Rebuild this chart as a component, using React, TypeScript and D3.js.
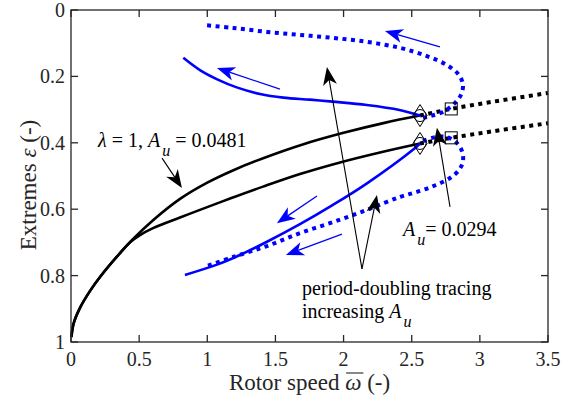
import React, { useLayoutEffect, useRef, useState } from 'react';
import * as d3 from 'd3';

const W = 571;
const H = 406;

const xTicks = [0, 0.5, 1, 1.5, 2, 2.5, 3, 3.5];
const yTicks = [0, 0.2, 0.4, 0.6, 0.8, 1];

// black solid branches (lambda = 1)
const blackUpperX = [0.003, 0.02, 0.066, 0.14, 0.213, 0.36, 0.45, 0.6, 0.8, 1.0, 1.2, 1.4, 1.7, 2.0, 2.3, 2.561];
const blackUpperY = [0.985, 0.943, 0.897, 0.846, 0.804, 0.732, 0.692, 0.634, 0.569, 0.52, 0.481, 0.448, 0.405, 0.37, 0.34, 0.318];
const blackLowerX = [0.003, 0.02, 0.066, 0.14, 0.213, 0.36, 0.433, 0.506, 0.602, 0.8, 0.946, 1.167, 1.409, 1.68, 1.974, 2.267, 2.561];
const blackLowerY = [0.985, 0.943, 0.897, 0.846, 0.804, 0.732, 0.7, 0.678, 0.657, 0.625, 0.602, 0.568, 0.532, 0.494, 0.459, 0.429, 0.402];

// black dotted (unstable) branches
const blackDotUpperX = [2.561, 2.79, 3.1, 3.5];
const blackDotUpperY = [0.318, 0.298, 0.276, 0.25];
const blackDotLowerX = [2.561, 2.79, 3.1, 3.5];
const blackDotLowerY = [0.402, 0.385, 0.365, 0.341];

// blue solid period-doubling branches
const blueUpperX = [0.824, 0.946, 1.069, 1.216, 1.387, 1.558, 1.754, 1.92, 2.17, 2.41, 2.561];
const blueUpperY = [0.144, 0.181, 0.208, 0.233, 0.253, 0.264, 0.27, 0.276, 0.286, 0.301, 0.318];
const blueLowerX = [2.561, 2.509, 2.172, 1.922, 1.68, 1.438, 1.24, 1.071, 0.836];
const blueLowerY = [0.402, 0.421, 0.522, 0.587, 0.645, 0.698, 0.738, 0.767, 0.798];

// blue dotted period-doubling branches
const blueDotUpperX = [2.583, 2.641, 2.729, 2.81, 2.861, 2.876, 2.847, 2.759, 2.612, 2.414, 2.172, 1.922, 1.68, 1.438, 1.189, 0.968];
const blueDotUpperY = [0.325, 0.319, 0.307, 0.283, 0.256, 0.226, 0.196, 0.166, 0.139, 0.114, 0.096, 0.084, 0.075, 0.066, 0.054, 0.045];
const blueDotLowerX = [2.583, 2.671, 2.759, 2.825, 2.869, 2.876, 2.847, 2.781, 2.678, 2.561, 2.414, 2.172, 1.922, 1.68, 1.438, 1.189, 0.998];
const blueDotLowerY = [0.395, 0.383, 0.383, 0.398, 0.425, 0.455, 0.482, 0.506, 0.527, 0.545, 0.563, 0.602, 0.639, 0.672, 0.711, 0.744, 0.771];

// markers
const diamondX = [2.561, 2.561];
const diamondY = [0.318, 0.402];
const squareX = [2.79, 2.79];
const squareY = [0.298, 0.385];

// arrows: [tailX, tailY, tipX, tipY]
const blueArrows = [
  [2.707, 0.111, 2.304, 0.063],
  [1.533, 0.238, 1.071, 0.175],
  [1.805, 0.56, 1.511, 0.642],
  [1.988, 0.675, 1.577, 0.738],
];
const blackArrows = [
  [0.668, 0.446, 0.814, 0.536],
  [2.135, 0.78, 1.878, 0.172],
  [2.135, 0.78, 2.245, 0.557],
  [2.781, 0.593, 2.685, 0.355],
];

// annotation anchors (data coords)
const labelLambda = [0.198, 0.413];
const labelAu = [2.436, 0.681];
const labelPD1 = [1.695, 0.858];
const labelPD2 = [1.695, 0.928];

const FONT = '"Liberation Serif", "Times New Roman", serif';

const x = d3.scaleLinear().domain([0, 3.5]).range([71, 548]);
const y = d3.scaleLinear().domain([0, 1]).range([10, 342]);

const line = d3
  .line<[number, number]>()
  .x((d) => x(d[0]))
  .y((d) => y(d[1]))
  .curve(d3.curveCatmullRom.alpha(0.5));

const pts = (xs: number[], ys: number[]) => xs.map((v, i) => [v, ys[i]] as [number, number]);

function Arrow({ a, color, lw }: { a: number[]; color: string; lw: number }) {
  const x1 = x(a[0]), y1 = y(a[1]), x2 = x(a[2]), y2 = y(a[3]);
  const ang = Math.atan2(y2 - y1, x2 - x1);
  const c = Math.cos(ang), s = Math.sin(ang);
  const L = 18, hw = 7, notch = 5;
  const p1 = [x2 - L * c + hw * s, y2 - L * s - hw * c];
  const p2 = [x2 - (L - notch) * c, y2 - (L - notch) * s];
  const p3 = [x2 - L * c - hw * s, y2 - L * s + hw * c];
  return (
    <g>
      <line x1={x1} y1={y1} x2={p2[0]} y2={p2[1]} stroke={color} strokeWidth={lw} />
      <polygon points={`${x2},${y2} ${p1[0]},${p1[1]} ${p2[0]},${p2[1]} ${p3[0]},${p3[1]}`} fill={color} />
    </g>
  );
}

export default function App() {
  const axisColor = '#262626';
  const tl = 7;
  const tickFs = 20;
  const labelFs = 23;
  const annFs = 20;
  const xLabelY = 390;
  const xLabelRef = useRef<SVGTextElement>(null);
  const [omega, setOmega] = useState<[number, number] | null>(null);

  useLayoutEffect(() => {
    const el = xLabelRef.current;
    if (!el) return;
    const txt = el.textContent || '';
    const idx = txt.indexOf('ω');
    if (idx < 0) return;
    try {
      const s = el.getStartPositionOfChar(idx);
      const e = el.getEndPositionOfChar(idx);
      setOmega([s.x, e.x]);
    } catch (err) {
      // ignore
    }
  }, []);

  return (
    <svg width={W} height={H} style={{ position: 'absolute', left: 0, top: 0, background: '#fff' }} fontFamily={FONT}>
      <rect x={0} y={0} width={W} height={H} fill="#fff" />
      {/* black solid */}
      <path d={line(pts(blackUpperX, blackUpperY)) || ''} fill="none" stroke="#000" strokeWidth={2.6} />
      <path d={line(pts(blackLowerX, blackLowerY)) || ''} fill="none" stroke="#000" strokeWidth={2.6} />
      {/* black dotted */}
      <path d={line(pts(blackDotUpperX, blackDotUpperY)) || ''} fill="none" stroke="#000" strokeWidth={4} strokeDasharray="4 4.5" />
      <path d={line(pts(blackDotLowerX, blackDotLowerY)) || ''} fill="none" stroke="#000" strokeWidth={4} strokeDasharray="4 4.5" />
      {/* blue solid */}
      <path d={line(pts(blueUpperX, blueUpperY)) || ''} fill="none" stroke="#0000ff" strokeWidth={2.6} />
      <path d={line(pts(blueLowerX, blueLowerY)) || ''} fill="none" stroke="#0000ff" strokeWidth={2.6} />
      {/* blue dotted */}
      <path d={line(pts(blueDotUpperX, blueDotUpperY)) || ''} fill="none" stroke="#0000ff" strokeWidth={4} strokeDasharray="4 4.5" />
      <path d={line(pts(blueDotLowerX, blueDotLowerY)) || ''} fill="none" stroke="#0000ff" strokeWidth={4} strokeDasharray="4 4.5" />
      {/* markers */}
      {diamondX.map((dx, i) => {
        const cx = x(dx), cy = y(diamondY[i]);
        return (
          <g key={'d' + i} fill="none" stroke="#000" strokeWidth={1}>
            <circle cx={cx} cy={cy} r={6} />
            <polygon points={`${cx},${cy - 11} ${cx + 7},${cy} ${cx},${cy + 11} ${cx - 7},${cy}`} />
          </g>
        );
      })}
      {squareX.map((sx, i) => (
        <rect key={'s' + i} x={x(sx) - 6} y={y(squareY[i]) - 6} width={12} height={12} fill="none" stroke="#000" strokeWidth={1} />
      ))}
      {/* arrows */}
      {blueArrows.map((a, i) => (
        <Arrow key={'ba' + i} a={a} color="#0000ff" lw={1.3} />
      ))}
      {blackArrows.map((a, i) => (
        <Arrow key={'ka' + i} a={a} color="#000" lw={1.1} />
      ))}
      {/* axes box */}
      <rect x={x(0)} y={y(0)} width={x(3.5) - x(0)} height={y(1) - y(0)} fill="none" stroke={axisColor} strokeWidth={1.3} />
      {xTicks.map((t) => (
        <g key={'xt' + t}>
          <line x1={x(t)} x2={x(t)} y1={y(1)} y2={y(1) - tl} stroke={axisColor} strokeWidth={1.3} />
          <line x1={x(t)} x2={x(t)} y1={y(0)} y2={y(0) + tl} stroke={axisColor} strokeWidth={1.3} />
          <text x={x(t)} y={y(1) + 24} textAnchor="middle" fontSize={tickFs} fill={axisColor}>
            {d3.format('~g')(t)}
          </text>
        </g>
      ))}
      {yTicks.map((t) => (
        <g key={'yt' + t}>
          <line x1={x(0)} x2={x(0) + tl} y1={y(t)} y2={y(t)} stroke={axisColor} strokeWidth={1.3} />
          <line x1={x(3.5)} x2={x(3.5) - tl} y1={y(t)} y2={y(t)} stroke={axisColor} strokeWidth={1.3} />
          <text x={x(0) - 6} y={y(t) + 7} textAnchor="end" fontSize={tickFs} fill={axisColor}>
            {d3.format('~g')(t)}
          </text>
        </g>
      ))}
      {/* axis labels */}
      <text ref={xLabelRef} x={(x(0) + x(3.5)) / 2} y={xLabelY} textAnchor="middle" fontSize={labelFs} fill={axisColor}>
        Rotor speed <tspan fontStyle="italic">ω</tspan> (-)
      </text>
      {omega && (
        <line x1={omega[0] + 1} x2={omega[1] + 2} y1={xLabelY - 17} y2={xLabelY - 17} stroke={axisColor} strokeWidth={1.1} />
      )}
      <text transform={`translate(36,185) rotate(-90)`} textAnchor="middle" fontSize={labelFs} fill={axisColor}>
        Extremes <tspan fontStyle="italic">ε</tspan> (-)
      </text>
      {/* annotations */}
      <text x={x(labelLambda[0])} y={y(labelLambda[1])} fontSize={annFs} fill="#000">
        <tspan fontStyle="italic">λ</tspan> = 1, <tspan fontStyle="italic">A</tspan>
        <tspan fontStyle="italic" fontSize={16} dy={9} dx={2}>u</tspan>
        <tspan dy={-9}> = 0.0481</tspan>
      </text>
      <text x={x(labelAu[0])} y={y(labelAu[1])} fontSize={annFs} fill="#000">
        <tspan fontStyle="italic">A</tspan>
        <tspan fontStyle="italic" fontSize={16} dy={9} dx={2}>u</tspan>
        <tspan dy={-9}>= 0.0294</tspan>
      </text>
      <text x={x(labelPD1[0])} y={y(labelPD1[1])} fontSize={annFs} fill="#000">
        period-doubling tracing
      </text>
      <text x={x(labelPD2[0])} y={y(labelPD2[1])} fontSize={annFs} fill="#000">
        increasing <tspan fontStyle="italic">A</tspan>
        <tspan fontStyle="italic" fontSize={16} dy={9} dx={2}>u</tspan>
      </text>
    </svg>
  );
}
